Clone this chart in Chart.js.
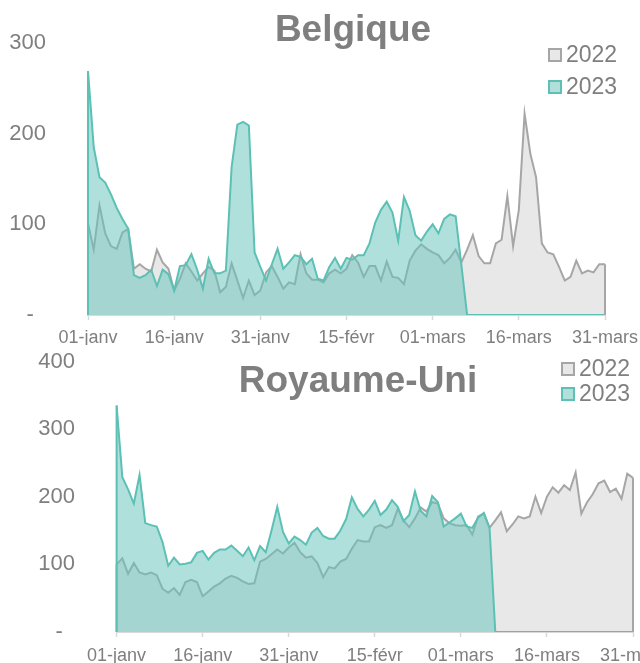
<!DOCTYPE html>
<html lang="fr">
<head>
<meta charset="utf-8">
<title>Belgique / Royaume-Uni 2022 vs 2023</title>
<script src="https://cdn.jsdelivr.net/npm/chart.js@4.4.1/dist/chart.umd.min.js"></script>
<style>
    html, body { margin: 0; padding: 0; background: #fff; }
    body {
        width: 640px; height: 663px; position: relative; overflow: hidden;
        font-family: "Liberation Sans", Arial, sans-serif; color: #7f7f7f;
    }
    .panel { position: absolute; left: 0; width: 640px; }
    .panel canvas { position: absolute; left: 0; top: 0; }
    .title {
        position: absolute; transform: translateX(-50%); white-space: nowrap;
        font-weight: bold; font-size: 37px; line-height: 37px;
    }
    .legend { position: absolute; font-size: 23px; line-height: 23px; }
    .legend .item { display: flex; align-items: center; }
    .legend .box { width: 10px; height: 10px; border: 2px solid; margin-right: 4px; }
</style>
</head>
<body>

<div class="panel" id="panelBE" style="top:0; height:345px;">
    <canvas id="chartBE" width="640" height="345"></canvas>
    <div class="title" style="left:353px; top:10px;">Belgique</div>
    <div class="legend" id="legendBE" style="left:548px; top:43px;"></div>
</div>

<div class="panel" id="panelUK" style="top:340px; height:323px;">
    <canvas id="chartUK" width="640" height="323"></canvas>
    <div class="title" style="left:358px; top:21px;">Royaume-Uni</div>
    <div class="legend" id="legendUK" style="left:561px; top:17px;"></div>
</div>

<script>
// Daily values, 01-janv .. 31-mars (91 days)
const tickLabels = ['01-janv', '16-janv', '31-janv', '15-févr', '01-mars', '16-mars', '31-mars'];
const tickEvery = 15;
const seriesNames = ['2022', '2023'];

const belgique2022 = [
    101, 72, 121, 90, 76, 73, 91, 95, 51, 56, 51, 48, 72, 58, 51, 27, 40, 57, 48, 38,
    46, 53, 49, 25, 31, 57, 38, 19, 38, 22, 27, 47, 54, 42, 29, 36, 34, 67, 46, 39,
    39, 36, 46, 50, 46, 51, 66, 58, 42, 54, 54, 38, 59, 42, 41, 34, 60, 71, 78, 73,
    69, 66, 57, 63, 72, 58, 72, 88, 65, 57, 57, 79, 83, 131, 76, 116, 222, 178, 152, 79,
    69, 67, 53, 38, 42, 60, 46, 49, 47, 56, 56
];
const belgique2023 = [
    269, 185, 152, 146, 133, 118, 106, 95, 44, 41, 44, 50, 32, 50, 45, 27, 54, 55, 67, 50,
    29, 62, 46, 46, 49, 163, 210, 213, 209, 69, 53, 38, 56, 73, 51, 58, 66, 64, 56, 62,
    40, 38, 53, 63, 51, 63, 61, 66, 66, 79, 102, 116, 125, 113, 82, 130, 115, 88, 82, 92,
    100, 90, 106, 111, 109, 55, 0, 0, 0, 0, 0, 0, 0, 0, 0, 0, 0, 0, 0, 0,
    0, 0, 0, 0, 0, 0, 0, 0, 0, 0, 0
];

const royaumeUni2022 = [
    100, 109, 86, 102, 88, 85, 88, 84, 64, 58, 65, 55, 74, 77, 74, 53, 60, 67, 72, 79,
    83, 80, 75, 71, 72, 104, 108, 115, 122, 116, 125, 132, 118, 110, 112, 102, 81, 96, 94, 104,
    108, 123, 136, 134, 134, 155, 158, 154, 158, 182, 165, 155, 168, 184, 178, 192, 190, 168, 161, 158,
    157, 158, 144, 171, 175, 154, 165, 177, 149, 159, 171, 168, 171, 200, 176, 200, 214, 206, 217, 210,
    236, 175, 192, 204, 220, 224, 207, 212, 197, 234, 228
];
const royaumeUni2023 = [
    335, 229, 211, 190, 232, 161, 158, 156, 133, 98, 110, 100, 101, 103, 117, 120, 107, 117, 122, 122,
    128, 120, 112, 125, 106, 127, 118, 150, 185, 148, 131, 141, 136, 129, 147, 154, 142, 138, 138, 150,
    167, 199, 182, 171, 181, 194, 173, 181, 195, 185, 164, 173, 208, 179, 171, 201, 192, 156, 162, 168,
    175, 156, 154, 169, 176, 154, 0, 0, 0, 0, 0, 0, 0, 0, 0, 0, 0, 0, 0, 0,
    0, 0, 0, 0, 0, 0, 0, 0, 0, 0, 0
];

const colors = {
    text: '#7f7f7f',
    axis: '#d9d9d9',
    greyLine: '#a6a6a6',
    greyFill: '#e8e8e8',
    tealLine: '#5cc0b5',
    tealFill: 'rgba(104, 195, 187, 0.52)'
};

Chart.defaults.font.family = '"Liberation Sans", Arial, sans-serif';
Chart.defaults.color = colors.text;

const dayIndex = belgique2022.map((_, i) => i);

// Excel outlines the whole area shape: add the vertical edges at the first and last point
const areaEdges = {
    id: 'areaEdges',
    afterDatasetsDraw(chart) {
        const ctx = chart.ctx;
        const zero = chart.scales.y.getPixelForValue(0);
        chart.getSortedVisibleDatasetMetas().slice().reverse().forEach(meta => {
            const ds = chart.data.datasets[meta.index];
            const pts = meta.data;
            ctx.save();
            ctx.strokeStyle = ds.borderColor;
            ctx.lineWidth = 2;
            [pts[0], pts[pts.length - 1]].forEach(p => {
                ctx.beginPath();
                ctx.moveTo(p.x, p.y);
                ctx.lineTo(p.x, zero);
                ctx.stroke();
            });
            ctx.restore();
        });
    }
};

function buildLegend(id, chart) {
    const el = document.getElementById(id);
    el.innerHTML = chart.data.datasets.map((ds, i) => `
        <div class="item" style="margin-top:${i ? chart.$legendGap : 0}px">
            <span class="box" style="background:${ds.legendFill}; border-color:${ds.borderColor}"></span>
            <span>${ds.label}</span>
        </div>`).join('');
}

function buildPanel(canvasId, values2022, values2023, cfg) {
    const chart = new Chart(document.getElementById(canvasId), {
        type: 'line',
        data: {
            labels: dayIndex,
            datasets: [{
                label: seriesNames[0],
                data: values2022,
                borderColor: colors.greyLine,
                backgroundColor: colors.greyFill,
                legendFill: colors.greyFill,
                fill: 'origin',
                order: 2
            }, {
                label: seriesNames[1],
                data: values2023,
                borderColor: colors.tealLine,
                backgroundColor: colors.tealFill,
                legendFill: '#b3dfdb',
                fill: 'origin',
                order: 1
            }]
        },
        plugins: [areaEdges],
        options: {
            responsive: false,
            animation: false,
            layout: { padding: { top: cfg.top, right: cfg.right, bottom: 0, left: 0 } },
            elements: {
                point: { radius: 0 },
                line: { borderWidth: 2, tension: 0 }
            },
            plugins: {
                legend: { display: false },
                title: { display: false },
                tooltip: { enabled: false }
            },
            scales: {
                x: {
                    offset: false,
                    grid: {
                        drawOnChartArea: false,
                        drawTicks: true,
                        tickLength: 5,
                        tickWidth: 1.5,
                        tickColor: ctx => ctx.index % tickEvery === 0 ? colors.axis : 'rgba(0,0,0,0)'
                    },
                    border: { color: colors.axis, width: 2 },
                    ticks: {
                        autoSkip: false,
                        maxRotation: 0,
                        padding: cfg.xPad,
                        font: { size: 18 },
                        callback: (v, i) => i % tickEvery === 0 ? tickLabels[i / tickEvery] : ''
                    },
                    afterFit: s => { s.height = cfg.xHeight; s.paddingLeft = 0; s.paddingRight = 0; }
                },
                y: {
                    min: 0,
                    max: cfg.max,
                    grid: { display: false, drawTicks: false },
                    border: { display: false },
                    ticks: {
                        stepSize: 100,
                        padding: cfg.yPad,
                        font: { size: 22 },
                        callback: v => v === 0 ? '-  ' : v
                    },
                    // fixed width, and no extra room for the top/bottom labels
                    afterFit: s => { s.width = cfg.yWidth; s.paddingTop = 0; s.paddingBottom = 0; }
                }
            }
        }
    });
    chart.$legendGap = cfg.legendGap;
    return chart;
}

const chartBE = buildPanel('chartBE', belgique2022, belgique2023, {
    top: 43, right: 35, max: 300, xHeight: 30, xPad: 7, yWidth: 88, yPad: 42, legendGap: 9
});
const chartUK = buildPanel('chartUK', royaumeUni2022, royaumeUni2023, {
    top: 21.5, right: 7, max: 400, xHeight: 31, xPad: 8, yWidth: 116.6, yPad: 41.6, legendGap: 2
});

buildLegend('legendBE', chartBE);
buildLegend('legendUK', chartUK);
</script>
</body>
</html>
